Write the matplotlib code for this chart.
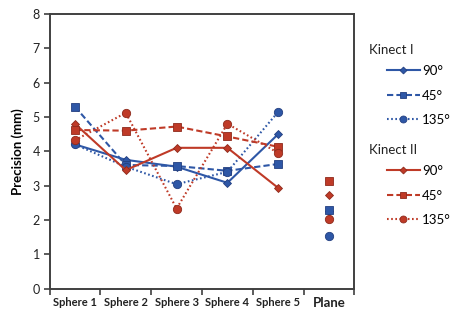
import matplotlib
matplotlib.use("Agg")
import matplotlib.pyplot as plt
from matplotlib.lines import Line2D
import numpy as np

categories = ["Sphere 1", "Sphere 2", "Sphere 3", "Sphere 4", "Sphere 5", "Plane"]
k1_90 = [4.2, 3.75, 3.55, 3.08, 4.5, 2.25]
k1_45 = [5.3, 3.6, 3.57, 3.43, 3.63, 2.3]
k1_135 = [4.2, 3.55, 3.04, 3.4, 5.15, 1.52]
k2_90 = [4.8, 3.45, 4.1, 4.1, 2.93, 2.72]
k2_45 = [4.62, 4.6, 4.72, 4.43, 4.13, 3.13]
k2_135 = [4.32, 5.12, 2.33, 4.8, 3.95, 2.03]
yticks = [0, 1, 2, 3, 4, 5, 6, 7, 8]

plt.rcParams['font.family'] = ['Lato', 'DejaVu Sans']

BLUE = '#2E57A6'
BLUE_E = '#233F80'
RED = '#BF3A27'
RED_E = '#8E2A1C'

fig = plt.figure(figsize=(4.55, 3.11), dpi=100)
ax = fig.add_axes([0.1088, 0.0723, 0.6703, 0.8827])

x = np.arange(len(categories))
series = [
    (k1_90, BLUE, BLUE_E, '-', 'D', 4.2, 3.5),
    (k1_45, BLUE, BLUE_E, (0, (3, 1.5)), 's', 5.8, 5.0),
    (k1_135, BLUE, BLUE_E, (0, (0.8, 1.2)), 'o', 6.0, 5.0),
    (k2_90, RED, RED_E, '-', 'D', 4.2, 3.5),
    (k2_45, RED, RED_E, (0, (3, 1.5)), 's', 5.8, 5.0),
    (k2_135, RED, RED_E, (0, (0.8, 1.2)), 'o', 6.0, 5.0),
]
handles = []
for vals, c, e, ls, m, ms, lms in series:
    ax.plot(x[:5], vals[:5], color=c, linestyle=ls, linewidth=1.5,
            marker=m, markersize=ms, markerfacecolor=c, markeredgecolor=e,
            markeredgewidth=0.6)
    ax.plot(x[5:], vals[5:], linestyle='none', marker=m, markersize=ms,
            markerfacecolor=c, markeredgecolor=e, markeredgewidth=0.6)
    handles.append(Line2D([], [], color=c, linestyle=ls, linewidth=1.5,
                          marker=m, markersize=lms, markerfacecolor=c,
                          markeredgecolor=e, markeredgewidth=0.6))

ax.set_xlim(-0.5, 5.5)
ax.set_ylim(0, 8)
ax.set_yticks(yticks)
ax.set_yticklabels([str(v) for v in yticks], fontsize=9, color='#222222')
ax.set_xticks(x)
ax.set_xticklabels(categories, fontsize=8, fontweight='bold', color='#222222')
ax.get_xticklabels()[-1].set_fontsize(9.5)
ax.set_xticks(np.arange(-0.5, 6, 1), minor=True)
ax.tick_params(axis='x', which='major', length=0, pad=6)
ax.tick_params(axis='x', which='minor', length=4, width=1.2, color='#404040', direction='out')
ax.tick_params(axis='y', length=4, width=1.2, color='#404040', direction='out', pad=3)
for s in ax.spines.values():
    s.set_linewidth(1.4)
    s.set_color('#404040')
ax.set_ylabel("Precision (mm)", fontsize=9.5, fontweight='bold', labelpad=6)

labels = ["90°", "45°", "135°"]
fig.text(369/455, 1 - 50/311, "Kinect I", fontsize=9.5, va='center', ha='left', color='#222222')
fig.text(369/455, 1 - 150/311, "Kinect II", fontsize=9.5, va='center', ha='left', color='#222222')
leg1 = fig.legend(handles[:3], labels, loc='upper left', bbox_to_anchor=(387/455, 1 - 65/311),
                  frameon=False, handlelength=2.5, handletextpad=0.15, labelspacing=0.95,
                  fontsize=9.5, numpoints=1, borderaxespad=0, borderpad=0)
leg2 = fig.legend(handles[3:], labels, loc='upper left', bbox_to_anchor=(387/455, 1 - 165/311),
                  frameon=False, handlelength=2.5, handletextpad=0.15, labelspacing=0.95,
                  fontsize=9.5, numpoints=1, borderaxespad=0, borderpad=0)

fig.savefig("out.png", dpi=100)
